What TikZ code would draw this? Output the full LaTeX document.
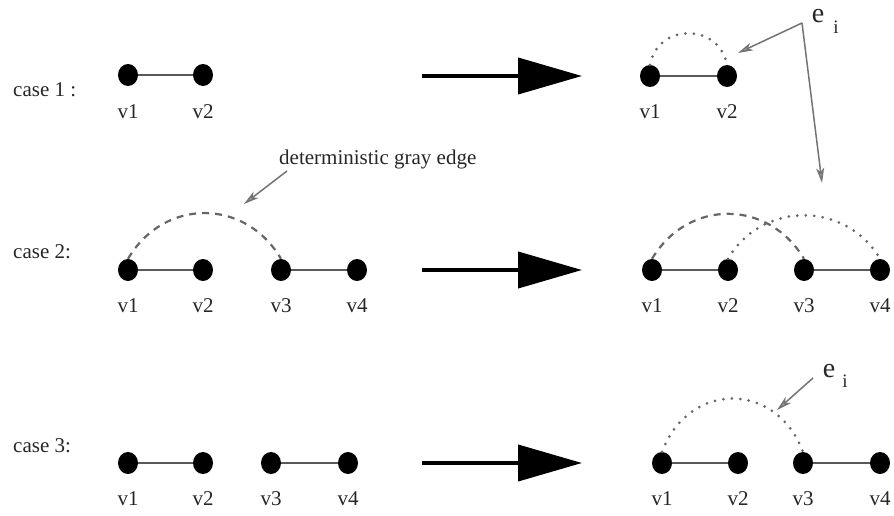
\documentclass[tikz,border=0pt]{standalone}
\usepackage{fontspec}
\setmainfont{Liberation Serif}
\usetikzlibrary{arrows.meta,shapes.geometric}
\begin{document}
\begin{tikzpicture}[x=1pt,y=-1pt,
  vtx/.style={ellipse,fill=black,minimum width=20pt,minimum height=22pt,inner sep=0pt},
  lbl/.style={font=\fontsize{21}{24}\selectfont,text=black!85,inner sep=0pt},
  ebig/.style={font=\fontsize{28}{29}\selectfont,text=black!85,inner sep=0pt},
  esub/.style={font=\fontsize{19}{20}\selectfont,text=black!85,inner sep=0pt},
  edgeln/.style={draw=black!65,line width=1.8pt},
  grayedge/.style={draw=black!60,line width=2.2pt,dash pattern=on 7pt off 6pt},
  newedge/.style={draw=black!60,line width=3pt,line cap=round,dash pattern=on 0pt off 8.5pt},
  bigarrow/.style={line width=4pt,-{Triangle[length=64pt,width=36pt]}},
  note/.style={draw=black!55,line width=1.5pt,-{Stealth[length=15pt,width=8pt,inset=4pt,fill=black!35]}},
]
\useasboundingbox (0,0) rectangle (894,516);

% ---------- case labels ----------
\node[lbl,anchor=west] (c1) at (13,90) {case 1 :};
\node[lbl,anchor=west] (c2) at (13,252) {case 2:};
\node[lbl,anchor=west] (c3) at (13,446) {case 3:};

% ---------- case 1 ----------
\node[vtx] (a1) at (128,75) {};
\node[vtx] (a2) at (203,75) {};
\node[lbl] (la1) at (128,112) {v1};
\node[lbl] (la2) at (203,112) {v2};
\draw[edgeln] (a1) -- (a2);

\coordinate (ar1s) at (422,76);
\coordinate (ar1e) at (582,76);
\draw[bigarrow] (ar1s) -- (ar1e);

\node[vtx] (b1) at (650,76) {};
\node[vtx] (b2) at (727,76) {};
\node[lbl] (lb1) at (650,112) {v1};
\node[lbl] (lb2) at (727,112) {v2};
\draw[edgeln] (b1) -- (b2);
\draw[newedge] (b1.north) .. controls +(8,-42) and +(-8,-42) .. (b2.north);

\node[ebig] (e1) at (818,16) {e};
\node[esub] (i1) at (836,27) {i};
\coordinate (k1) at (802,23);
\coordinate (t1) at (738,53);
\coordinate (t2) at (822,183);
\draw[note] (k1) -- (t1);
\draw[note] (k1) -- (t2);

% ---------- case 2 ----------
\node[vtx] (p1) at (128,270) {};
\node[vtx] (p2) at (203,270) {};
\node[vtx] (p3) at (281,270) {};
\node[vtx] (p4) at (357,270) {};
\node[lbl] (lp1) at (128,306) {v1};
\node[lbl] (lp2) at (203,306) {v2};
\node[lbl] (lp3) at (281,306) {v3};
\node[lbl] (lp4) at (357,306) {v4};
\draw[edgeln] (p1) -- (p2);
\draw[edgeln] (p3) -- (p4);
\draw[grayedge] (p1.north) .. controls +(36,-61) and +(-36,-61) .. (p3.north);

\node[lbl,anchor=west] (gtxt) at (279,159) {deterministic gray edge};
\coordinate (gs) at (287,171);
\coordinate (gt) at (244,204);
\draw[note] (gs) -- (gt);

\coordinate (ar2s) at (422,270);
\coordinate (ar2e) at (582,270);
\draw[bigarrow] (ar2s) -- (ar2e);

\node[vtx] (q1) at (652,270) {};
\node[vtx] (q2) at (728,270) {};
\node[vtx] (q3) at (804,270) {};
\node[vtx] (q4) at (880,270) {};
\node[lbl] (lq1) at (652,306) {v1};
\node[lbl] (lq2) at (728,306) {v2};
\node[lbl] (lq3) at (804,306) {v3};
\node[lbl] (lq4) at (880,306) {v4};
\draw[edgeln] (q1) -- (q2);
\draw[edgeln] (q3) -- (q4);
\draw[grayedge] (q1.north) .. controls +(36,-60) and +(-36,-60) .. (q3.north);
\draw[newedge] (q2.north) .. controls +(34,-58) and +(-34,-58) .. (q4.north);

% ---------- case 3 ----------
\node[vtx] (r1) at (128,463) {};
\node[vtx] (r2) at (203,463) {};
\node[vtx] (r3) at (271,463) {};
\node[vtx] (r4) at (348,463) {};
\node[lbl] (lr1) at (128,499) {v1};
\node[lbl] (lr2) at (203,499) {v2};
\node[lbl] (lr3) at (271,499) {v3};
\node[lbl] (lr4) at (348,499) {v4};
\draw[edgeln] (r1) -- (r2);
\draw[edgeln] (r3) -- (r4);

\coordinate (ar3s) at (422,463);
\coordinate (ar3e) at (582,463);
\draw[bigarrow] (ar3s) -- (ar3e);

\node[vtx] (s1) at (662,463) {};
\node[vtx] (s2) at (738,463) {};
\node[vtx] (s3) at (803,463) {};
\node[vtx] (s4) at (880,463) {};
\node[lbl] (ls1) at (662,499) {v1};
\node[lbl] (ls2) at (738,499) {v2};
\node[lbl] (ls3) at (803,499) {v3};
\node[lbl] (ls4) at (880,499) {v4};
\draw[edgeln] (s1) -- (s2);
\draw[edgeln] (s3) -- (s4);
\draw[newedge] (s1.north) .. controls +(27,-71) and +(-27,-71) .. (s3.north);

\node[ebig] (e3) at (829,371) {e};
\node[esub] (i3) at (845,381) {i};
\coordinate (k3) at (813,378);
\coordinate (t3) at (777,410);
\draw[note] (k3) -- (t3);
\end{tikzpicture}
\end{document}
